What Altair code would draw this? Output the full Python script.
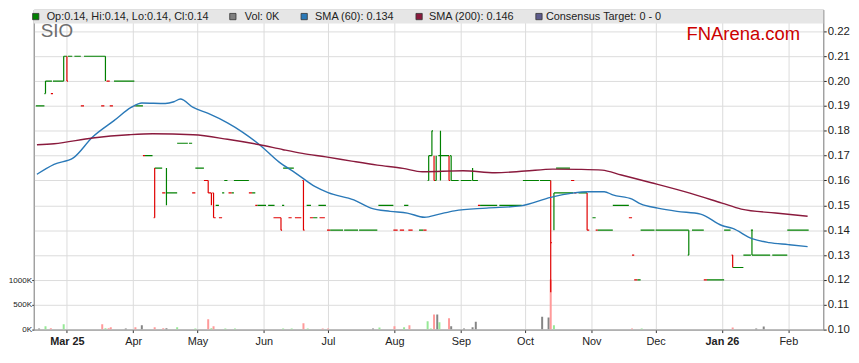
import altair as alt
import pandas as pd

FONT = "Liberation Sans"

# ---- Daily price bars, drawn as flat price runs (open/close ticks that join into lines)
RUN_START = [
    "2025-02-14 12:00", "2025-02-18 12:00", "2025-02-19 00:00", "2025-02-21 12:00", "2025-02-22 12:00",
    "2025-02-27 12:00", "2025-03-01 00:00", "2025-03-01 12:00", "2025-03-04 12:00", "2025-03-07 12:00",
    "2025-03-09 00:00", "2025-03-17 00:00", "2025-03-19 12:00", "2025-03-21 00:00", "2025-03-23 00:00",
    "2025-04-01 12:00", "2025-04-02 00:00", "2025-04-05 12:00", "2025-04-06 12:00", "2025-04-10 12:00",
    "2025-04-11 00:00", "2025-04-14 12:00", "2025-04-16 12:00", "2025-04-21 12:00", "2025-04-27 00:00",
    "2025-04-28 12:00", "2025-04-30 00:00", "2025-05-04 00:00", "2025-05-06 00:00", "2025-05-08 00:00",
    "2025-05-08 12:00", "2025-05-09 12:00", "2025-05-11 00:00", "2025-05-12 12:00", "2025-05-13 12:00",
    "2025-05-15 12:00", "2025-05-17 00:00", "2025-05-18 00:00", "2025-05-25 00:00", "2025-05-26 12:00",
    "2025-05-28 00:00", "2025-05-29 00:00", "2025-06-03 00:00", "2025-06-05 12:00", "2025-06-09 00:00",
    "2025-06-09 12:00", "2025-06-10 00:00", "2025-06-12 12:00", "2025-06-15 12:00", "2025-06-19 00:00",
    "2025-06-19 12:00", "2025-06-21 00:00", "2025-06-22 12:00", "2025-06-24 00:00", "2025-06-26 12:00",
    "2025-06-27 00:00", "2025-06-30 12:00", "2025-07-02 00:00", "2025-07-08 12:00", "2025-07-15 12:00",
    "2025-07-24 12:00", "2025-07-31 12:00", "2025-08-03 12:00", "2025-08-05 12:00", "2025-08-07 12:00",
    "2025-08-12 12:00", "2025-08-14 12:00", "2025-08-16 12:00", "2025-08-17 00:00", "2025-08-18 12:00",
    "2025-08-19 12:00", "2025-08-20 00:00", "2025-08-21 12:00", "2025-08-26 12:00", "2025-08-27 00:00",
    "2025-08-27 12:00", "2025-09-01 00:00", "2025-09-06 12:00", "2025-09-09 00:00", "2025-09-10 00:00",
    "2025-09-19 00:00", "2025-09-30 00:00", "2025-10-08 00:00", "2025-10-13 00:00", "2025-10-14 12:00",
    "2025-10-15 12:00", "2025-10-22 12:00", "2025-10-24 00:00", "2025-10-26 00:00", "2025-10-30 00:00",
    "2025-11-01 12:00", "2025-11-03 00:00", "2025-11-04 00:00", "2025-11-11 00:00", "2025-11-18 12:00",
    "2025-11-20 00:00", "2025-11-21 00:00", "2025-11-22 12:00", "2025-11-24 00:00", "2025-12-01 00:00",
    "2025-12-16 00:00", "2025-12-18 00:00", "2025-12-23 12:00", "2025-12-25 00:00", "2026-01-02 00:00",
    "2026-01-05 12:00", "2026-01-06 00:00", "2026-01-11 00:00", "2026-01-14 12:00", "2026-01-15 00:00",
    "2026-01-24 12:00", "2026-01-31 12:00",
]
RUN_END = [
    "2025-02-18 12:00", "2025-02-19 00:00", "2025-02-22 00:00", "2025-02-22 12:00", "2025-02-27 12:00",
    "2025-03-01 00:00", "2025-03-01 12:00", "2025-03-03 12:00", "2025-03-07 12:00", "2025-03-09 00:00",
    "2025-03-19 00:00", "2025-03-18 12:00", "2025-03-21 00:00", "2025-03-22 12:00", "2025-04-01 12:00",
    "2025-04-02 00:00", "2025-04-05 12:00", "2025-04-06 12:00", "2025-04-10 00:00", "2025-04-11 00:00",
    "2025-04-14 12:00", "2025-04-16 00:00", "2025-04-21 12:00", "2025-04-26 12:00", "2025-04-28 12:00",
    "2025-04-30 00:00", "2025-05-04 00:00", "2025-05-06 00:00", "2025-05-07 12:00", "2025-05-08 12:00",
    "2025-05-09 12:00", "2025-05-11 00:00", "2025-05-12 12:00", "2025-05-13 12:00", "2025-05-15 00:00",
    "2025-05-17 00:00", "2025-05-18 00:00", "2025-05-25 00:00", "2025-05-26 12:00", "2025-05-28 00:00",
    "2025-05-29 00:00", "2025-06-02 00:00", "2025-06-06 00:00", "2025-06-09 00:00", "2025-06-09 12:00",
    "2025-06-10 12:00", "2025-06-15 00:00", "2025-06-14 00:00", "2025-06-18 12:00", "2025-06-19 12:00",
    "2025-06-20 00:00", "2025-06-23 00:00", "2025-06-24 00:00", "2025-06-26 00:00", "2025-06-30 00:00",
    "2025-06-29 12:00", "2025-07-02 00:00", "2025-07-08 00:00", "2025-07-15 00:00", "2025-07-24 00:00",
    "2025-07-31 12:00", "2025-08-02 12:00", "2025-08-05 12:00", "2025-08-07 12:00", "2025-08-09 12:00",
    "2025-08-14 12:00", "2025-08-16 00:00", "2025-08-17 00:00", "2025-08-18 12:00", "2025-08-19 00:00",
    "2025-08-20 00:00", "2025-08-20 12:00", "2025-08-26 12:00", "2025-08-27 00:00", "2025-08-27 12:00",
    "2025-08-31 00:00", "2025-09-06 00:00", "2025-09-09 00:00", "2025-09-10 00:00", "2025-09-18 00:00",
    "2025-09-29 12:00", "2025-10-07 12:00", "2025-10-13 00:00", "2025-10-13 12:00", "2025-10-23 12:00",
    "2025-10-22 00:00", "2025-10-24 00:00", "2025-10-25 00:00", "2025-10-30 00:00", "2025-10-31 00:00",
    "2025-11-03 00:00", "2025-11-04 00:00", "2025-11-11 00:00", "2025-11-18 12:00", "2025-11-20 00:00",
    "2025-11-21 00:00", "2025-11-22 12:00", "2025-11-24 00:00", "2025-11-30 12:00", "2025-12-16 12:00",
    "2025-12-16 12:00", "2025-12-23 12:00", "2025-12-25 00:00", "2026-01-02 00:00", "2026-01-05 00:00",
    "2026-01-06 00:00", "2026-01-11 00:00", "2026-01-14 12:00", "2026-01-15 12:00", "2026-01-23 12:00",
    "2026-01-31 12:00", "2026-02-10 12:00",
]
RUN_PRICE = [
    0.19, 0.195, 0.20, 0.195, 0.20,
    0.21, 0.20, 0.21, 0.21, 0.19,
    0.21, 0.19, 0.20, 0.19, 0.20,
    0.19, 0.19, 0.17, 0.17, 0.145,
    0.165, 0.155, 0.155, 0.175, 0.175,
    0.155, 0.165, 0.16, 0.155, 0.155,
    0.145, 0.15, 0.145, 0.155, 0.16,
    0.155, 0.155, 0.16, 0.155, 0.155,
    0.15, 0.15, 0.15, 0.145, 0.14,
    0.15, 0.165, 0.145, 0.145, 0.16,
    0.14, 0.15, 0.145, 0.145, 0.15,
    0.145, 0.14, 0.14, 0.14, 0.14,
    0.15, 0.14, 0.14, 0.15, 0.14,
    0.14, 0.14, 0.16, 0.17, 0.18,
    0.16, 0.16, 0.17, 0.16, 0.17,
    0.16, 0.16, 0.16, 0.15, 0.15,
    0.15, 0.16, 0.16, 0.135, 0.155,
    0.165, 0.16, 0.155, 0.155, 0.14,
    0.145, 0.14, 0.14, 0.15, 0.145,
    0.13, 0.12, 0.12, 0.14, 0.14,
    0.13, 0.14, 0.12, 0.12, 0.14,
    0.13, 0.125, 0.13, 0.14, 0.13,
    0.13, 0.14,
]
RUN_DIR = [
    "up", "up", "up", "down", "up",
    "up", "down", "up", "up", "down",
    "up", "down", "down", "down", "up",
    "down", "up", "down", "up", "down",
    "up", "down", "up", "up", "up",
    "down", "up", "down", "down", "down",
    "down", "up", "down", "up", "up",
    "down", "up", "up", "down", "up",
    "down", "up", "up", "down", "down",
    "up", "up", "down", "down", "down",
    "down", "up", "down", "up", "up",
    "down", "down", "up", "up", "up",
    "up", "down", "down", "up", "down",
    "up", "down", "up", "up", "up",
    "down", "up", "up", "down", "up",
    "up", "up", "up", "down", "up",
    "up", "up", "up", "down", "up",
    "up", "down", "down", "up", "down",
    "up", "down", "up", "up", "down",
    "down", "down", "up", "up", "up",
    "up", "up", "down", "up", "up",
    "down", "up", "up", "up", "up",
    "up", "up",
]

# ---- High-low ranges of the days that moved
BAR_DATE = [
    "2025-02-19 00:00", "2025-02-27 12:00", "2025-03-01 00:00", "2025-03-19 00:00", "2025-04-11 00:00",
    "2025-04-16 12:00", "2025-05-06 00:00", "2025-05-07 12:00", "2025-05-08 12:00", "2025-06-09 00:00",
    "2025-06-19 12:00", "2025-08-17 00:00", "2025-08-18 12:00", "2025-08-19 12:00", "2025-08-20 12:00",
    "2025-08-22 12:00", "2025-08-26 12:00", "2025-08-27 12:00", "2025-09-06 12:00", "2025-10-13 00:00",
    "2025-10-14 12:00", "2025-10-30 00:00", "2025-12-16 12:00", "2026-01-06 00:00", "2026-01-15 00:00",
]
BAR_LOW = [0.195, 0.20, 0.20, 0.20, 0.145, 0.15, 0.155, 0.15, 0.145, 0.14, 0.14, 0.16, 0.17,
           0.16, 0.16, 0.16, 0.16, 0.16, 0.16, 0.115, 0.14, 0.14, 0.13, 0.125, 0.13]
BAR_HIGH = [0.20, 0.21, 0.21, 0.21, 0.165, 0.165, 0.16, 0.155, 0.155, 0.145, 0.16, 0.17, 0.18,
            0.17, 0.17, 0.18, 0.17, 0.17, 0.165, 0.16, 0.155, 0.155, 0.14, 0.13, 0.14]
BAR_DIR = ["up", "up", "down", "up", "down", "up", "down", "down", "down", "down", "down", "up", "up",
           "down", "up", "up", "down", "up", "up", "down", "up", "down", "up", "down", "up"]

# ---- Volume (thousands of shares)
VOL_DATE = [
    "2025-02-16 00:00", "2025-02-19 00:00", "2025-02-21 12:00", "2025-02-27 12:00", "2025-03-17 12:00",
    "2025-03-19 00:00", "2025-03-20 12:00", "2025-03-21 12:00", "2025-03-28 12:00", "2025-04-02 00:00",
    "2025-04-05 00:00", "2025-04-11 00:00", "2025-04-15 00:00", "2025-04-16 12:00", "2025-04-21 12:00",
    "2025-04-30 00:00", "2025-05-06 00:00", "2025-05-07 12:00", "2025-05-08 12:00", "2025-05-14 00:00",
    "2025-05-18 12:00", "2025-06-10 00:00", "2025-06-14 00:00", "2025-06-19 12:00", "2025-06-21 12:00",
    "2025-06-28 12:00", "2025-07-01 00:00", "2025-07-22 00:00", "2025-07-25 00:00", "2025-08-01 00:00",
    "2025-08-05 12:00", "2025-08-08 00:00", "2025-08-16 12:00", "2025-08-18 00:00", "2025-08-19 12:00",
    "2025-08-21 00:00", "2025-08-22 00:00", "2025-08-26 12:00", "2025-08-27 12:00", "2025-09-02 12:00",
    "2025-09-06 12:00", "2025-09-08 00:00", "2025-10-09 00:00", "2025-10-12 00:00", "2025-10-13 00:00",
    "2025-10-14 12:00", "2025-11-20 00:00", "2025-11-24 12:00", "2026-01-06 00:00", "2026-01-17 00:00",
    "2026-01-20 12:00",
]
VOL_K = [20, 67, 27, 107, 107, 27, 27, 47, 20, 47,
         87, 47, 27, 27, 47, 20, 207, 27, 67, 20,
         20, 20, 20, 127, 20, 20, 20, 20, 40, 67,
         47, 87, 167, 20, 307, 307, 147, 227, 67, 20,
         47, 160, 260, 245, 1010, 87, 20, 20, 40, 20,
         60]
VOL_KIND = ["flat", "up", "down", "up", "down", "up", "down", "down", "flat", "down",
            "flat", "down", "down", "flat", "up", "up", "down", "up", "down", "up",
            "up", "up", "up", "down", "up", "down", "down", "flat", "up", "down",
            "up", "down", "up", "up", "down", "flat", "up", "down", "flat", "flat",
            "flat", "flat", "flat", "flat", "down", "up", "down", "up", "down", "flat",
            "flat"]

# ---- Moving averages
SMA60_DATE = ["2025-02-15", "2025-02-23", "2025-03-04", "2025-03-13", "2025-03-23", "2025-03-31",
              "2025-04-05", "2025-04-16", "2025-04-20", "2025-04-23", "2025-04-29", "2025-05-06",
              "2025-05-15", "2025-05-22", "2025-05-30", "2025-06-08", "2025-06-16", "2025-06-25",
              "2025-07-01", "2025-07-13", "2025-07-21", "2025-07-30", "2025-08-07", "2025-08-15",
              "2025-08-22", "2025-08-29", "2025-09-13", "2025-09-29", "2025-10-13", "2025-10-23",
              "2025-10-31", "2025-11-07", "2025-11-11", "2025-11-20", "2025-11-24", "2025-12-02",
              "2025-12-11", "2025-12-22", "2026-01-01", "2026-01-06", "2026-01-15", "2026-01-23",
              "2026-02-01", "2026-02-10"]
SMA60 = [0.1625, 0.1665, 0.1691, 0.1775, 0.1841, 0.1894, 0.1912, 0.1910, 0.1917, 0.1928, 0.1894,
         0.1870, 0.1832, 0.1795, 0.1744, 0.1675, 0.1629, 0.1575, 0.1551, 0.1522, 0.1489, 0.1476,
         0.1469, 0.1452, 0.1465, 0.1478, 0.1489, 0.1498, 0.1532, 0.1549, 0.1555, 0.1555, 0.1542,
         0.1525, 0.1506, 0.1489, 0.1476, 0.1465, 0.1419, 0.1407, 0.1366, 0.1350, 0.1342, 0.1334]
SMA200_DATE = ["2025-02-15", "2025-02-23", "2025-03-13", "2025-03-30", "2025-04-10", "2025-04-29",
               "2025-05-15", "2025-05-30", "2025-06-10", "2025-06-19", "2025-06-30", "2025-07-12",
               "2025-07-24", "2025-08-05", "2025-08-14", "2025-09-02", "2025-09-17", "2025-10-01",
               "2025-10-14", "2025-10-26", "2025-11-06", "2025-11-15", "2025-11-29", "2025-12-17",
               "2026-01-01", "2026-01-10", "2026-01-26", "2026-02-10"]
SMA200 = [0.1744, 0.1748, 0.1771, 0.1784, 0.1788, 0.1784, 0.1766, 0.1744, 0.1724, 0.1709, 0.1695,
          0.1678, 0.1662, 0.1649, 0.1635, 0.1639, 0.1631, 0.1638, 0.1646, 0.1645, 0.1642, 0.1622,
          0.1591, 0.1549, 0.1509, 0.1485, 0.1469, 0.1456]

# ---- Axis ticks and header texts
MONTHS = [(2025, 3), (2025, 4), (2025, 5), (2025, 6), (2025, 7), (2025, 8), (2025, 9),
          (2025, 10), (2025, 11), (2025, 12), (2026, 1), (2026, 2)]
PRICE_TICKS = [0.10, 0.11, 0.12, 0.13, 0.14, 0.15, 0.16, 0.17, 0.18, 0.19, 0.20, 0.21, 0.22]
VOL_TICKS = [0, 500000, 1000000]
LEGEND_TEXT = ["Op:0.14, Hi:0.14, Lo:0.14, Cl:0.14", "Vol: 0K", "SMA (60): 0.134",
               "SMA (200): 0.146", "Consensus Target: 0 - 0"]
LEGEND_KEY = ["up", "vol_flat", "SMA (60)", "SMA (200)", "target"]
TICKER = "SIO"
BRAND = "FNArena.com"

W, H = 797, 323

COLOR_DOMAIN = ["up", "down", "vol_up", "vol_down", "vol_flat", "SMA (60)", "SMA (200)", "target"]
COLOR_RANGE = ["#008000", "#e00000", "#96e996", "#ff9a9a", "#858585", "#2a79b8", "#8a1a3d", "#5d5b8c"]
CSCALE = alt.Scale(domain=COLOR_DOMAIN, range=COLOR_RANGE)

XSCALE = alt.Scale(domain=[alt.DateTime(year=2025, month=2, date=15, hours=19, minutes=52),
                           alt.DateTime(year=2026, month=2, date=15)], nice=False)
BOLD_TEST = "month(datum.value) == 2 || month(datum.value) == 0"
XAXIS = alt.Axis(
    values=[alt.DateTime(year=y, month=m, date=1) for y, m in MONTHS],
    labelExpr="timeFormat(datum.value, '%b') + ((" + BOLD_TEST + ") ? ' ' + timeFormat(datum.value, '%y') : '')",
    labelFontWeight={"condition": {"test": BOLD_TEST, "value": "bold"}, "value": "normal"},
    grid=True, gridColor="#dcdcdc", tickSize=3, tickColor="#333", domainColor="#999",
    labelFontSize=11, labelPadding=3, labelFlush=False, labelOverlap=False, title=None,
)
YSCALE = alt.Scale(domain=[0.10, 0.22877], nice=False, zero=False)
YAXIS = alt.Axis(orient="right", values=PRICE_TICKS, format=".2f", grid=True, gridColor="#dcdcdc",
                 tickSize=3, tickColor="#222", domainColor="#999", labelFontSize=11.5,
                 labelPadding=1, title=None)
VSCALE = alt.Scale(domain=[0, 6460000], nice=False)
VAXIS = alt.Axis(orient="left", values=VOL_TICKS, labelExpr="format(datum.value / 1000, 'd') + 'K'",
                 grid=False, tickSize=2, tickColor="#222", domainColor="#999", labelFontSize=8.2,
                 labelPadding=0, title=None)

runs = pd.DataFrame({"start": pd.to_datetime(RUN_START), "end": pd.to_datetime(RUN_END),
                     "price": RUN_PRICE, "dir": RUN_DIR})
bars = pd.DataFrame({"date": pd.to_datetime(BAR_DATE), "low": BAR_LOW, "high": BAR_HIGH, "dir": BAR_DIR})
vol = pd.DataFrame({"date": pd.to_datetime(VOL_DATE), "vol": [v * 1000 for v in VOL_K],
                    "kind": ["vol_" + k for k in VOL_KIND]})
sma = pd.concat([
    pd.DataFrame({"date": pd.to_datetime(SMA60_DATE), "value": SMA60, "series": "SMA (60)"}),
    pd.DataFrame({"date": pd.to_datetime(SMA200_DATE), "value": SMA200, "series": "SMA (200)"}),
])

vol_chart = alt.Chart(vol).mark_bar(size=2, clip=True).encode(
    x=alt.X("date:T", scale=XSCALE, axis=XAXIS),
    y=alt.Y("vol:Q", scale=VSCALE, axis=VAXIS),
    color=alt.Color("kind:N", scale=CSCALE, legend=None),
)
run_chart = alt.Chart(runs).mark_rule(strokeWidth=1.2, clip=True).encode(
    x=alt.X("start:T", scale=XSCALE, axis=XAXIS),
    x2="end:T",
    y=alt.Y("price:Q", scale=YSCALE, axis=YAXIS),
    color=alt.Color("dir:N", scale=CSCALE, legend=None),
)
bar_chart = alt.Chart(bars).mark_rule(strokeWidth=1.2, clip=True).encode(
    x=alt.X("date:T", scale=XSCALE, axis=XAXIS),
    y=alt.Y("low:Q", scale=YSCALE, axis=YAXIS),
    y2="high:Q",
    color=alt.Color("dir:N", scale=CSCALE, legend=None),
)
sma_chart = alt.Chart(sma).mark_line(strokeWidth=1.4, interpolate="monotone", clip=True).encode(
    x=alt.X("date:T", scale=XSCALE, axis=XAXIS),
    y=alt.Y("value:Q", scale=YSCALE, axis=YAXIS),
    color=alt.Color("series:N", scale=CSCALE, legend=None),
    detail="series:N",
)
price = alt.layer(run_chart, bar_chart, sma_chart)

ONE = alt.Data(values=[{}])
band = alt.Chart(ONE).mark_rect(color="#e6e6e6").encode(
    x=alt.value(0), x2=alt.value(W), y=alt.value(0), y2=alt.value(14))


def label(text, x, y, size, color, weight="normal"):
    return alt.Chart(ONE).mark_text(text=text, align="left", baseline="middle", font=FONT,
                                    fontSize=size, color=color, fontWeight=weight).encode(
        x=alt.value(x), y=alt.value(y))


LEG_SQ_X = [2, 201, 273, 389, 510]
LEG_TX_X = [13, 213, 284, 399, 517]
extras = [band]
for key, txt, sx, tx in zip(LEGEND_KEY, LEGEND_TEXT, LEG_SQ_X, LEG_TX_X):
    fill = COLOR_RANGE[COLOR_DOMAIN.index(key)]
    if key == "vol_flat":
        fill = "#808080"
    extras.append(alt.Chart(ONE).mark_square(size=40, fill=fill, stroke="#333", strokeWidth=0.8,
                                             filled=True, opacity=1).encode(
        x=alt.value(sx), y=alt.value(7)))
    extras.append(label(txt, tx, 7, 11, "#222"))
extras.append(label(TICKER, 7, 22, 19, "#6e6e6e"))
extras.append(label(BRAND, 659, 25, 18.6, "#cc0000"))

chart = alt.layer(vol_chart, price, *extras).resolve_scale(y="independent").properties(
    width=W, height=H,
    autosize=alt.AutoSizeParams(type="none"),
    padding={"left": 26, "top": 0, "right": 28, "bottom": 24},
).configure_view(stroke="#a0a0a0", strokeWidth=1).configure_axis(
    labelFont=FONT, labelColor="#222"
)

chart.save("out.html", embed_options={"renderer": "svg", "actions": False})
